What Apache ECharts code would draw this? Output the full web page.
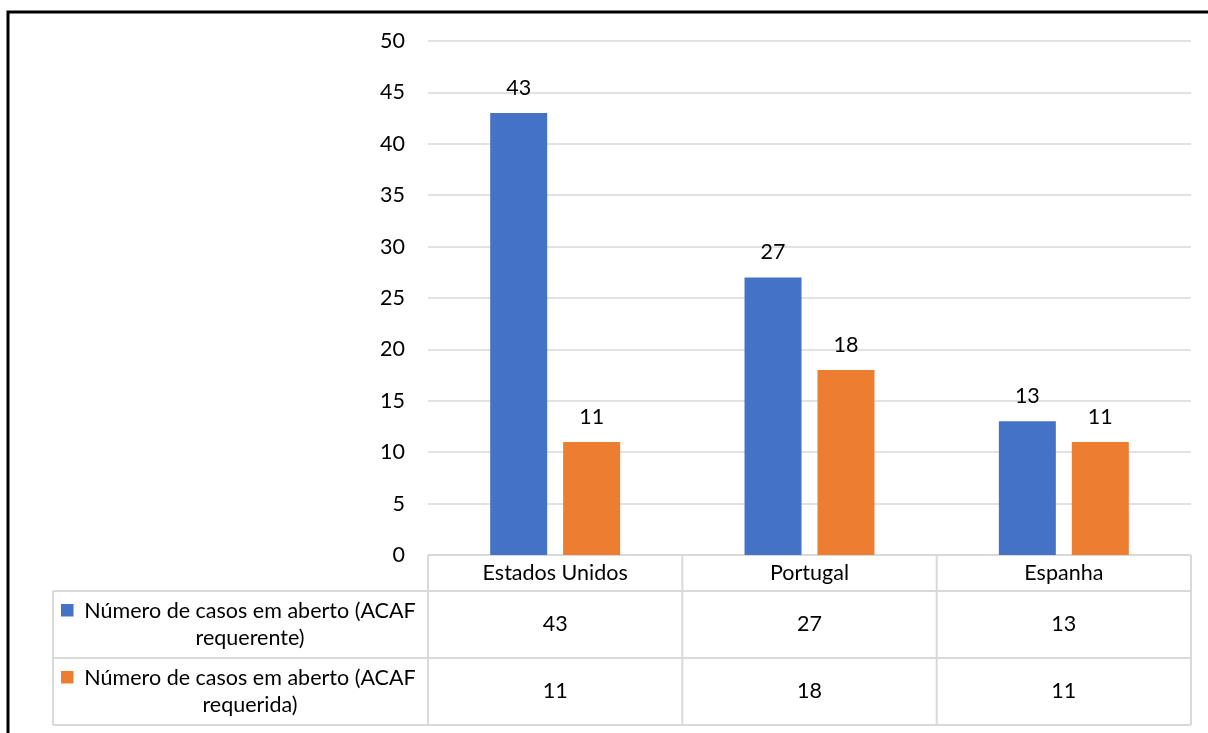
<!DOCTYPE html>
<html><head><meta charset="utf-8">
<script src="https://cdn.jsdelivr.net/npm/echarts@6/dist/echarts.min.js"></script>
<style>html,body{margin:0;padding:0;background:#fff}#c{width:1208px;height:733px}</style>
</head><body><div id="c"></div>
<script>
const categories = ['Estados Unidos', 'Portugal', 'Espanha'];
const seriesNames = ['Número de casos em aberto (ACAF\nrequerente)', 'Número de casos em aberto (ACAF\nrequerida)'];
const requerente = [43, 27, 13];
const requerida = [11, 18, 11];
const yTicks = [0, 50, 5];
const colors = ['#4472C4', '#ED7D31'];
const FONT = 'Lato';
const FS = 21.5;

const chart = echarts.init(document.getElementById('c'), null, {renderer: 'canvas'});
const GRID = {left: 428, right: 17, top: 41, bottom: 178};
const option = {
  animation: false,
  textStyle: {fontFamily: FONT},
  grid: GRID,
  xAxis: {
    type: 'category', data: categories,
    axisLine: {show: false}, axisTick: {show: false},
    axisLabel: {color: '#000', fontSize: FS, fontFamily: FONT, margin: 7}
  },
  yAxis: {
    type: 'value', min: yTicks[0], max: yTicks[1], interval: yTicks[2],
    axisLine: {show: false}, axisTick: {show: false},
    axisLabel: {color: '#000', fontSize: FS, fontFamily: FONT, margin: 23},
    splitLine: {lineStyle: {color: '#d9d9d9', width: 1.5}}
  },
  series: [
    {type: 'bar', name: seriesNames[0], data: requerente, barWidth: 57, barGap: '28%',
     itemStyle: {color: colors[0]},
     label: {show: true, position: 'top', distance: 14, color: '#000', fontSize: FS, fontFamily: FONT}},
    {type: 'bar', name: seriesNames[1], data: requerida, barWidth: 57, barGap: '28%',
     itemStyle: {color: colors[1]},
     label: {show: true, position: 'top', distance: 14, color: '#000', fontSize: FS, fontFamily: FONT}}
  ]
};
chart.setOption(option);

function buildTable() {
  const W = chart.getWidth();
  const H = chart.getHeight();
  const L = GRID.left, R = W - GRID.right, B = H - GRID.bottom;
  const tableLeft = 53;
  const headerBottom = B + 36;
  const rowH = 67;
  const rows = [requerente, requerida];
  const colW = (R - L) / categories.length;
  const lineStyle = {stroke: '#d9d9d9', lineWidth: 2};
  const els = [];
  els.push({type: 'rect', shape: {x: 8, y: 12, width: W + 20, height: H + 20},
    style: {fill: null, stroke: '#000', lineWidth: 3}, silent: true});
  els.push({type: 'line', shape: {x1: L, y1: B, x2: R, y2: B}, style: lineStyle});
  els.push({type: 'line', shape: {x1: tableLeft, y1: headerBottom, x2: R, y2: headerBottom}, style: lineStyle});
  for (let r = 0; r < rows.length; r++) {
    const yb = headerBottom + rowH * (r + 1);
    els.push({type: 'line', shape: {x1: tableLeft, y1: yb, x2: R, y2: yb}, style: lineStyle});
  }
  const bottomY = headerBottom + rowH * rows.length;
  els.push({type: 'line', shape: {x1: tableLeft, y1: headerBottom, x2: tableLeft, y2: bottomY}, style: lineStyle});
  for (let c = 0; c <= categories.length; c++) {
    const x = L + colW * c;
    els.push({type: 'line', shape: {x1: x, y1: B, x2: x, y2: bottomY}, style: lineStyle});
  }
  for (let r = 0; r < rows.length; r++) {
    const yc = headerBottom + rowH * r + rowH / 2;
    els.push({type: 'rect', shape: {x: 61, y: yc - 20.5, width: 12.5, height: 12.5}, style: {fill: colors[r]}});
    els.push({type: 'text', x: (80 + 420) / 2, y: yc,
      style: {text: seriesNames[r], font: FS + 'px ' + FONT, fill: '#000', textAlign: 'center', textVerticalAlign: 'middle', lineHeight: 27}});
    for (let c = 0; c < categories.length; c++) {
      const xc = chart.convertToPixel({xAxisIndex: 0}, categories[c]);
      els.push({type: 'text', x: xc, y: yc,
        style: {text: String(rows[r][c]), font: FS + 'px ' + FONT, fill: '#000', textAlign: 'center', textVerticalAlign: 'middle'}});
    }
  }
  chart.setOption({graphic: {elements: els}});
}
buildTable();
</script></body></html>
